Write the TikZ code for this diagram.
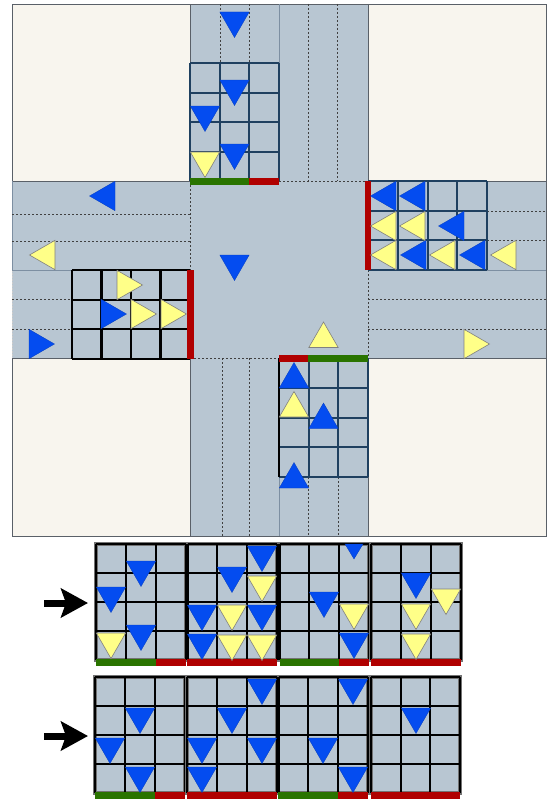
\documentclass[tikz,border=0pt]{standalone}
\usepackage{xcolor}
\usetikzlibrary{arrows.meta}
\definecolor{roadgray}{RGB}{184,198,210}
\definecolor{cornercream}{RGB}{248,245,238}
\definecolor{edgegray}{RGB}{90,96,104}
\definecolor{dividergray}{RGB}{125,143,162}
\definecolor{griddark}{RGB}{31,64,96}
\definecolor{carblue}{RGB}{4,76,240}
\definecolor{caryellow}{RGB}{255,255,136}
\definecolor{signalred}{RGB}{176,0,0}
\definecolor{signalgreen}{RGB}{42,116,0}
\tikzset{
	corner/.style={fill=cornercream, draw=edgegray, line width=0.8pt},
	lane/.style={draw=black!75, line width=0.6pt, dash pattern=on 2pt off 2pt},
	divider/.style={draw=dividergray, line width=1pt},
	gridblue/.style={draw=griddark, line width=2pt},
	gridblack/.style={draw=black, line width=2.2pt},
	panelframe/.style={fill=roadgray, draw=black!55, line width=3.2pt},
	bluecar/.style={fill=carblue, draw=carblue!80!black, line width=0.3pt},
	yellowcar/.style={fill=caryellow, draw=black!50, line width=0.6pt},
	redbar/.style={fill=signalred},
	greenbar/.style={fill=signalgreen},
	bigarrow/.style={draw=black, line width=7pt, -{Stealth[length=27pt, width=29pt, inset=5pt]}}
}
% style, x0, y0, x1, y1, cols, rows
\newcommand{\cellgrid}[7]{
	\foreach \k in {0,...,#6} \draw[#1] ({#2+\k*(#4-#2)/#6},#3) -- ({#2+\k*(#4-#2)/#6},#5);
	\foreach \k in {0,...,#7} \draw[#1] (#2,{#3+\k*(#5-#3)/#7}) -- (#4,{#3+\k*(#5-#3)/#7});
}
% x0, y0, x1, y1
\newcommand{\panelgrid}[4]{
	\draw[panelframe] (#1,#2) rectangle (#3,#4);
	\cellgrid{gridblack}{#1}{#2}{#3}{#4}{3}{4}
}
% style, middle, base
\newcommand{\cardown}[3]{\draw[#1] (#2-14.7,#3) -- (#2+14.7,#3) -- (#2,#3+25.5) -- cycle;}
\newcommand{\carup}[3]{\draw[#1] (#2-14.7,#3) -- (#2+14.7,#3) -- (#2,#3-25.5) -- cycle;}
\newcommand{\carleft}[3]{\draw[#1] (#2,#3-14.7) -- (#2,#3+14.7) -- (#2-25.5,#3) -- cycle;}
\newcommand{\carright}[3]{\draw[#1] (#2,#3-14.7) -- (#2,#3+14.7) -- (#2+25.5,#3) -- cycle;}
\begin{document}
\begin{tikzpicture}[x=1pt, y=-1pt]
	\useasboundingbox (0,0) rectangle (550,800);

	% Roads and corners
	\fill[roadgray] (12,4) rectangle (546,536);
	\draw[corner] (12,4) rectangle (190,181);
	\draw[corner] (368,4) rectangle (546,181);
	\draw[corner] (12,358) rectangle (190,536);
	\draw[corner] (368,358) rectangle (546,536);
	\draw[edgegray, line width=0.6pt] (190,4) -- (368,4);
	\draw[edgegray, line width=0.6pt] (190,536) -- (368,536);
	\draw[edgegray, line width=0.6pt] (546,181) -- (546,358);
	\draw[divider] (12,181) -- (12,270);
	\draw[draw=white!80!black, line width=1pt, dash pattern=on 1.5pt off 1.5pt] (12,270) -- (12,358);

	% Lanes
	\foreach \x in {220,249} \draw[lane] (\x,4) -- (\x,63);
	\foreach \x in {308,337} \draw[lane] (\x,4) -- (\x,181);
	\foreach \x in {222,249} \draw[lane] (\x,358) -- (\x,536);
	\foreach \x in {308,338} \draw[lane] (\x,477) -- (\x,536);
	\foreach \y in {214,241} \draw[lane] (12,\y) -- (190,\y);
	\foreach \y in {299,329} \draw[lane] (12,\y) -- (72,\y);
	\foreach \y in {211,240} \draw[lane] (487,\y) -- (546,\y);
	\foreach \y in {299,329} \draw[lane] (368,\y) -- (546,\y);
	\draw[lane] (190,181) -- (190,270);
	\draw[lane] (368,270) -- (368,358);
	\draw[lane] (279,181) -- (368,181);
	\draw[lane] (190,358) -- (279,358);
	\draw[divider] (279,4) -- (279,63);
	\draw[divider] (279,477) -- (279,536);
	\draw[divider] (12,270) -- (72,270);
	\draw[divider] (487,270) -- (546,270);

	% Cell grids
	\cellgrid{gridblue}{190}{63}{279}{181}{3}{4}
	\cellgrid{gridblue}{368}{181}{487}{270}{4}{3}
	\cellgrid{gridblack}{72}{270}{190}{359}{4}{3}
	\cellgrid{gridblue}{279}{358}{368}{477}{3}{4}
	\draw[gridblack] (279,358) -- (279,477);

	% Signals
	\fill[greenbar] (190,178) rectangle (249,185);
	\fill[redbar] (249,178) rectangle (279,185);
	\fill[redbar] (364.5,181) rectangle (371,270);
	\fill[redbar] (187,270) rectangle (194,359);
	\fill[redbar] (279,355) rectangle (308,362);
	\fill[greenbar] (308,355) rectangle (368,362);

	% Cars going down
	\foreach \x/\y in {234.5/12, 234.5/80, 205/106, 234.5/144, 234.5/255} {\cardown{bluecar}{\x}{\y}}
	\cardown{yellowcar}{205}{152}

	% Cars going left
	\foreach \x/\y in {396/196, 425/196, 464/226, 426/255, 485/255, 115/196} {\carleft{bluecar}{\x}{\y}}
	\foreach \x/\y in {396/226, 425/226, 396/255, 455/255, 516/255, 55/255} {\carleft{yellowcar}{\x}{\y}}

	% Cars going right
	\foreach \x/\y in {101/314, 29/344} {\carright{bluecar}{\x}{\y}}
	\foreach \x/\y in {117/285, 131/314, 161/314, 464/344} {\carright{yellowcar}{\x}{\y}}

	% Cars going up
	\foreach \x/\y in {294/388, 323.5/428.5, 294/488} {\carup{bluecar}{\x}{\y}}
	\foreach \x/\y in {323.5/347.5, 294/417} {\carup{yellowcar}{\x}{\y}}

	% Upper row
	\panelgrid{96}{544}{186}{660}
	\panelgrid{187.5}{544}{277}{660}
	\panelgrid{279.5}{544}{369}{660}
	\panelgrid{371}{544}{461}{660}
	\fill[greenbar] (96,659) rectangle (156,665.5);
	\fill[redbar] (156,659) rectangle (186,665.5);
	\fill[redbar] (187,659) rectangle (277,665.5);
	\fill[greenbar] (280,659) rectangle (339,665.5);
	\fill[redbar] (339,659) rectangle (369,665.5);
	\fill[redbar] (371,659) rectangle (461,665.5);
	\foreach \x/\y in {141/561, 111/587, 141/625, 262/546, 232/567, 202/605, 262/605, 202/634, 324/592, 354/633, 416/573} {\cardown{bluecar}{\x}{\y}}
	\foreach \x/\y in {111/633, 262/576, 232/605, 232/635, 262/635, 354/604, 446/589, 416/604, 416/634} {\cardown{yellowcar}{\x}{\y}}
	\draw[bluecar] (345,544) -- (363,544) -- (354,559) -- cycle;

	% Lower row
	\panelgrid{95}{677}{185}{793}
	\panelgrid{187}{677}{277}{793}
	\panelgrid{278.5}{677}{368}{793}
	\panelgrid{371}{677}{460}{793}
	\fill[greenbar] (95,792) rectangle (155,799);
	\fill[redbar] (155,792) rectangle (185,799);
	\fill[redbar] (187,792) rectangle (277,799);
	\fill[greenbar] (278,792) rectangle (338,799);
	\fill[redbar] (338,792) rectangle (368,799);
	\fill[redbar] (371,792) rectangle (460,799);
	\foreach \x/\y in {140/708, 110/738, 140/767, 262/679, 232/708, 202/738, 262/738, 202/767, 353/679, 323/738, 353/767, 416/708} {\cardown{bluecar}{\x}{\y}}

	% Arrows
	\coordinate (upperTail) at (44,603);
	\coordinate (upperTip) at (88,603);
	\coordinate (lowerTail) at (44,736);
	\coordinate (lowerTip) at (88,736);
	\draw[bigarrow] (upperTail) -- (upperTip);
	\draw[bigarrow] (lowerTail) -- (lowerTip);
\end{tikzpicture}
\end{document}
